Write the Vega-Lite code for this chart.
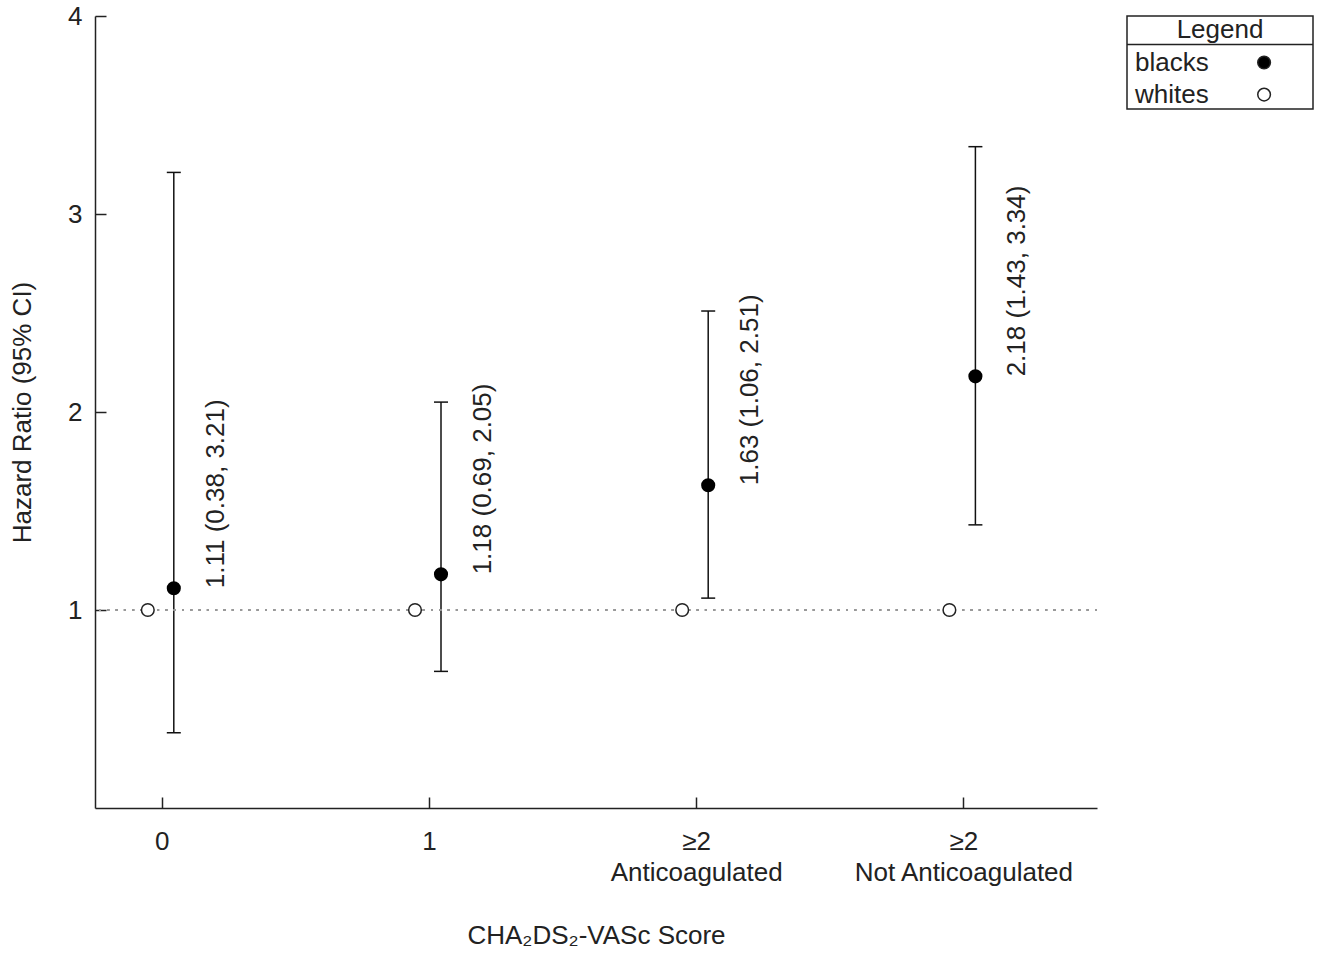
{
  "$schema": "https://vega.github.io/schema/vega-lite/v6.json",
  "background": "white",
  "padding": {"left": 9, "top": 3, "right": 5, "bottom": 5},
  "config": {
    "font": "Liberation Sans",
    "view": {"stroke": null},
    "axis": {
      "grid": false,
      "labelFont": "Liberation Sans",
      "labelFontSize": 26,
      "labelColor": "#222",
      "labelLimit": 0,
      "titleFont": "Liberation Sans",
      "titleFontSize": 26,
      "titleFontWeight": "normal",
      "titleColor": "#222",
      "domainColor": "#222",
      "domainWidth": 1.5,
      "tickColor": "#222",
      "tickWidth": 1.5,
      "tickSize": -11,
      "labelOverlap": false,
      "labelFlush": false
    }
  },
  "bounds": "flush",
  "spacing": 30,
  "hconcat": [
    {
      "width": 1002,
      "height": 792,
      "data": {
        "values": [
          {"idx": 0, "group": "blacks", "hr": 1.11, "lo": 0.38, "hi": 3.21, "label": "1.11 (0.38, 3.21)"},
          {"idx": 1, "group": "blacks", "hr": 1.18, "lo": 0.69, "hi": 2.05, "label": "1.18 (0.69, 2.05)"},
          {"idx": 2, "group": "blacks", "hr": 1.63, "lo": 1.06, "hi": 2.51, "label": "1.63 (1.06, 2.51)"},
          {"idx": 3, "group": "blacks", "hr": 2.18, "lo": 1.43, "hi": 3.34, "label": "2.18 (1.43, 3.34)"},
          {"idx": 0, "group": "whites", "hr": 1},
          {"idx": 1, "group": "whites", "hr": 1},
          {"idx": 2, "group": "whites", "hr": 1},
          {"idx": 3, "group": "whites", "hr": 1}
        ]
      },
      "layer": [
        {
          "transform": [{"filter": "datum.group == 'blacks'"}],
          "mark": {"type": "rule", "color": "#111", "strokeWidth": 1.5, "xOffset": 12},
          "encoding": {
            "x": {
              "field": "idx",
              "type": "quantitative",
              "scale": {"domain": [-0.25, 3.5], "nice": false, "zero": false},
              "axis": {
                "values": [0, 1, 2, 3],
                "labelExpr": "datum.value == 0 ? '0' : datum.value == 1 ? '1' : datum.value == 2 ? ['≥2', 'Anticoagulated'] : ['≥2', 'Not Anticoagulated']",
                "labelLineHeight": 31,
                "labelPadding": 31,
                "title": "CHA₂DS₂-VASc Score",
                "titlePadding": 37
              }
            },
            "y": {
              "field": "lo",
              "type": "quantitative",
              "scale": {"domain": [0, 4], "nice": false, "zero": false},
              "axis": {"values": [1, 2, 3, 4], "format": "d", "labelPadding": 24, "title": "Hazard Ratio (95% CI)", "titlePadding": 32}
            },
            "y2": {"field": "hi"}
          }
        },
        {
          "mark": {"type": "rule", "color": "#999", "strokeWidth": 1.5, "strokeDash": [2, 6.3]},
          "encoding": {"y": {"datum": 1, "type": "quantitative"}}
        },
        {
          "transform": [{"filter": "datum.group == 'blacks'"}],
          "mark": {"type": "tick", "orient": "horizontal", "color": "#111", "size": 14, "thickness": 1.5, "xOffset": 12, "opacity": 1},
          "encoding": {"x": {"field": "idx", "type": "quantitative"}, "y": {"field": "lo", "type": "quantitative"}}
        },
        {
          "transform": [{"filter": "datum.group == 'blacks'"}],
          "mark": {"type": "tick", "orient": "horizontal", "color": "#111", "size": 14, "thickness": 1.5, "xOffset": 12, "opacity": 1},
          "encoding": {"x": {"field": "idx", "type": "quantitative"}, "y": {"field": "hi", "type": "quantitative"}}
        },
        {
          "transform": [{"filter": "datum.group == 'whites'"}],
          "mark": {"type": "point", "shape": "circle", "fill": "white", "filled": true, "stroke": "#222", "strokeWidth": 1.5, "size": 160, "opacity": 1, "xOffset": -14},
          "encoding": {"x": {"field": "idx", "type": "quantitative"}, "y": {"field": "hr", "type": "quantitative"}}
        },
        {
          "transform": [{"filter": "datum.group == 'blacks'"}],
          "mark": {"type": "circle", "color": "#000", "size": 200, "opacity": 1, "xOffset": 12},
          "encoding": {"x": {"field": "idx", "type": "quantitative"}, "y": {"field": "hr", "type": "quantitative"}}
        },
        {
          "transform": [{"filter": "datum.group == 'blacks'"}],
          "mark": {"type": "text", "angle": 270, "align": "left", "baseline": "middle", "dy": 42, "xOffset": 12, "fontSize": 26, "font": "Liberation Sans", "color": "#222"},
          "encoding": {"x": {"field": "idx", "type": "quantitative"}, "y": {"field": "hr", "type": "quantitative"}, "text": {"field": "label"}}
        }
      ]
    },
    {
      "width": 186,
      "height": 93,
      "view": {"stroke": "#222", "strokeWidth": 1.5},
      "data": {"values": [{"group": "blacks"}, {"group": "whites"}]},
      "layer": [
        {
          "data": {"values": [{"t": "Legend"}]},
          "mark": {"type": "text", "fontSize": 26, "font": "Liberation Sans", "color": "#222", "align": "center", "baseline": "middle"},
          "encoding": {
            "x": {"datum": 0.5, "type": "quantitative", "scale": {"domain": [0, 1]}, "axis": null},
            "y": {"datum": "Legend", "type": "nominal", "scale": {"type": "point", "domain": ["Legend", "blacks", "whites"], "padding": 0.45}, "axis": null},
            "text": {"field": "t"}
          }
        },
        {
          "data": {"values": [{"t": "sep"}]},
          "mark": {"type": "rule", "color": "#222", "strokeWidth": 1.5, "yOffset": -18},
          "encoding": {"y": {"datum": "blacks", "type": "nominal"}}
        },
        {
          "mark": {"type": "text", "fontSize": 26, "font": "Liberation Sans", "color": "#222", "align": "left", "baseline": "middle"},
          "encoding": {
            "x": {"datum": 0.043, "type": "quantitative"},
            "y": {"field": "group", "type": "nominal"},
            "text": {"field": "group"}
          }
        },
        {
          "mark": {"type": "point", "shape": "circle", "filled": true, "stroke": "#222", "strokeWidth": 1.5, "size": 160, "opacity": 1},
          "encoding": {
            "x": {"datum": 0.737, "type": "quantitative"},
            "y": {"field": "group", "type": "nominal"},
            "fill": {"field": "group", "type": "nominal", "scale": {"domain": ["blacks", "whites"], "range": ["#000", "#fff"]}, "legend": null}
          }
        }
      ]
    }
  ]
}
